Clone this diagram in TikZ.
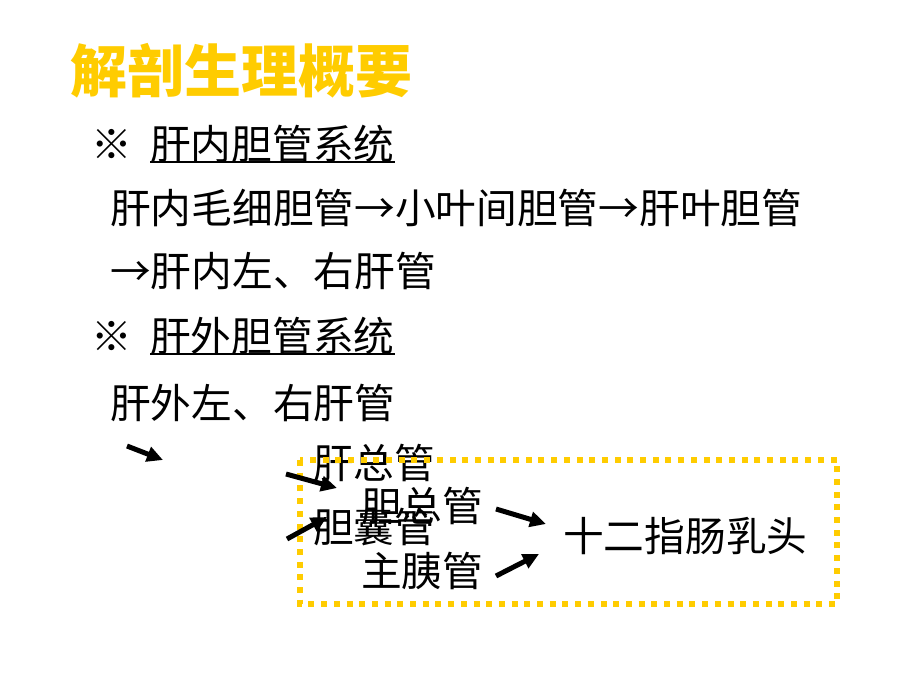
\documentclass[tikz,border=0pt]{standalone}
\usepackage{fontspec}
\newfontfamily\cjk{Noto Sans CJK SC}
\usetikzlibrary{arrows.meta}
\definecolor{gold}{HTML}{FFCC00}

\begin{document}
\begin{tikzpicture}[x=1pt,y=-1pt,
  txt/.style={anchor=west,inner sep=0pt,font=\cjk\fontsize{40.7}{44}\selectfont},
  flow/.style={line width=5pt,-{Triangle[length=16pt,width=15pt]}},
  ulin/.style={line width=1.5pt}]
\useasboundingbox (0,0) rectangle (920,690);
\node[anchor=west,inner sep=0pt,text=gold,font=\cjk\bfseries\fontsize{57}{60}\selectfont] (title) at (70,71) {解剖生理概要};
\node[txt] (mark1) at (91,144) {※};
\node[txt] (sys1) at (150,144) {肝内胆管系统};
\draw[ulin] ([yshift=-18pt]sys1.west) -- ([yshift=-18pt]sys1.east);
\node[txt] (intra1) at (110,208) {肝内毛细胆管→小叶间胆管→肝叶胆管};
\node[txt] (intra2) at (110,271) {→肝内左、右肝管};
\node[txt] (mark2) at (91,336) {※};
\node[txt] (sys2) at (150,336) {肝外胆管系统};
\draw[ulin] ([yshift=-18pt]sys2.west) -- ([yshift=-18pt]sys2.east);
\node[txt] (extra) at (110,403) {肝外左、右肝管};
\node[txt] (chd) at (313,463) {肝总管};
\node[txt] (cbd) at (361,506) {胆总管};
\node[txt] (cyd) at (313,527) {胆囊管};
\node[txt] (pd) at (361,571) {主胰管};
\node[txt] (papilla) at (563,536) {十二指肠乳头};
\draw[gold,line width=6pt,dash pattern=on 6pt off 6.7pt] (300,460) rectangle (837,604);
\coordinate (a1s) at (127,446);
\coordinate (a1e) at (163,460);
\coordinate (a2s) at (286,474);
\coordinate (a2e) at (337,488);
\coordinate (a3s) at (287,539);
\coordinate (a3e) at (327,517);
\coordinate (a4s) at (496,509);
\coordinate (a4e) at (546,524);
\coordinate (a5s) at (496,576);
\coordinate (a5e) at (539,554);
\draw[flow] (a1s) -- (a1e);
\draw[flow] (a2s) -- (a2e);
\draw[flow] (a3s) -- (a3e);
\draw[flow] (a4s) -- (a4e);
\draw[flow] (a5s) -- (a5e);
\end{tikzpicture}
\end{document}
